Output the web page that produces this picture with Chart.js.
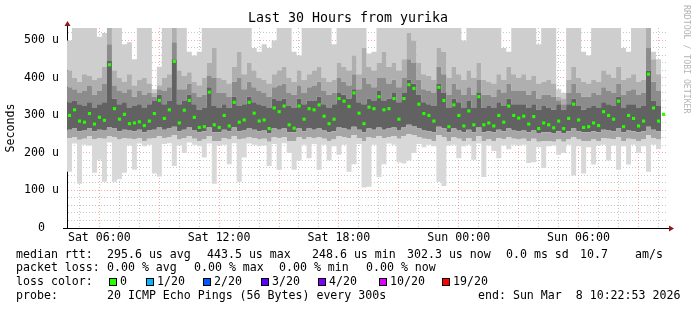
<!DOCTYPE html>
<html>
<head>
<meta charset="utf-8">
<script src="https://cdn.jsdelivr.net/npm/chart.js@4/dist/chart.umd.min.js"></script>
<style>
  html, body { margin: 0; padding: 0; background: #fff; }
  canvas { display: block; }
</style>
</head>
<body>
<canvas id="chart" width="697" height="310"></canvas>
<script>
(() => {
    // Начало окна: Sat 04:22:53 (часы от Sat 00:00), шаг — 15 минут
    const START = 4 + 22 / 60 + 53 / 3600
    const SPAN = 30
    const BIN = 0.25

    // Медиана RTT, мкс
    const median = [
        300,315,285,282,305,277,295,287,435,318,290,303,278,280,283,273,285,305,340,292,315,444,280,314,340,295,268,270,362,275,
        268,300,272,335,282,288,335,306,285,288,265,320,310,325,275,266,325,290,318,315,328,298,278,290,345,338,324,360,306,278,
        322,318,350,315,318,345,290,345,382,372,330,305,300,285,375,340,270,328,300,272,312,275,350,275,280,272,300,282,325,300,
        293,298,277,297,265,280,275,267,285,265,292,330,288,268,270,280,273,310,300,290,338,270,300,292,272,285,410,320,285,303
    ]
    // "Дым": границы полос распределения пингов, мкс
    const smokeMin = [
        150,225,118,222,220,147,182,123,228,123,130,147,220,155,225,218,222,145,137,224,226,165,220,200,228,222,218,188,225,118,
        220,222,170,226,123,188,225,222,218,220,165,224,155,226,200,155,180,222,186,224,155,222,180,218,195,222,150,170,224,108,
        110,222,136,170,225,222,175,172,180,200,224,215,222,218,123,112,220,222,186,218,222,182,225,136,220,205,186,220,210,222,
        220,222,173,175,215,160,218,220,195,200,222,140,218,145,215,169,220,222,180,220,155,218,169,222,200,218,150,222,210,224
    ]
    const smokeLo = [
        240,242,235,238,245,236,240,238,245,242,236,240,238,236,240,232,238,240,245,240,242,248,236,240,245,238,232,236,245,232,
        232,240,236,245,236,238,242,240,236,238,230,242,240,242,232,232,242,236,242,240,242,238,232,236,245,242,240,248,240,232,
        242,240,245,240,242,245,238,245,250,248,242,238,236,232,248,242,232,242,238,232,240,232,245,232,236,232,240,236,242,238,
        236,238,232,238,230,232,232,230,236,230,236,242,236,232,232,236,232,240,238,236,242,232,238,236,232,236,248,240,236,240
    ]
    const smokeCoreLo = [
        262,265,258,260,265,258,262,260,268,265,258,262,260,258,262,255,260,262,268,262,265,270,258,262,268,260,255,258,268,255,
        255,262,258,268,258,260,265,262,258,260,252,265,262,265,255,255,265,258,265,262,265,260,255,258,268,265,262,270,262,255,
        265,262,268,262,265,268,260,268,275,272,265,260,258,255,270,265,255,265,260,255,262,255,268,255,258,255,262,258,265,260,
        258,260,255,260,252,255,255,252,258,252,258,265,258,255,255,258,255,262,260,258,265,255,260,258,255,258,270,262,258,262
    ]
    const smokeCoreHi = [
        335,340,330,325,335,320,330,335,445,345,330,335,320,325,330,320,330,340,355,330,340,450,330,340,355,330,315,320,375,325,
        320,330,320,350,325,330,350,335,330,325,320,345,340,345,325,320,345,330,340,340,350,330,320,330,360,355,345,370,335,330,
        345,340,365,340,345,360,335,360,395,385,355,335,330,325,385,360,320,345,335,320,340,320,360,320,325,320,335,325,345,330,
        330,330,320,330,315,325,320,315,330,315,330,345,325,315,320,325,320,335,330,325,350,320,330,330,320,325,420,340,325,335
    ]
    const smokeUpper = [
        375,370,360,365,380,355,365,385,490,380,365,360,370,350,365,355,360,350,370,365,375,495,370,370,385,360,350,355,405,400,
        360,360,350,390,400,370,390,375,365,360,350,375,380,385,360,355,380,360,375,380,390,365,355,360,400,390,380,410,370,400,
        385,375,400,400,385,395,375,400,450,440,395,370,365,360,430,410,355,385,370,355,375,355,395,355,355,350,370,360,385,365,
        365,365,355,365,345,355,355,350,340,330,360,385,360,350,350,360,355,375,365,360,385,355,365,370,355,360,480,390,365,375
    ]
    const smokeHi = [
        420,400,390,410,405,395,400,430,540,420,400,390,410,380,395,400,385,360,380,400,410,540,420,405,415,390,380,400,440,480,
        400,395,385,430,470,410,440,420,400,395,385,410,420,430,400,390,420,395,410,420,430,400,390,395,440,430,420,460,410,480,
        430,420,440,470,430,440,420,450,520,500,440,410,405,395,480,470,400,430,410,395,420,400,440,395,390,385,410,395,430,410,
        400,410,395,405,385,390,395,385,350,345,395,430,400,390,385,395,390,420,410,400,430,395,400,410,390,395,540,450,410,420
    ]
    const smokeMax = [
        500,540,540,540,540,540,510,520,540,540,540,490,495,450,540,540,540,370,430,540,540,540,540,540,470,460,470,540,540,540,
        540,540,540,540,540,540,540,480,470,490,480,500,540,540,540,470,460,540,540,540,540,540,540,490,540,540,540,540,540,540,
        465,470,540,540,540,540,540,540,540,540,540,540,540,540,540,540,540,540,540,500,540,540,540,540,540,540,540,480,470,540,
        540,540,540,540,490,540,540,540,370,360,540,540,540,470,460,540,540,540,540,540,540,480,470,540,540,540,540,470,450,500
    ]

    // Подписи осей
    const timeTickHours = [6, 12, 18, 24, 30]
    const timeTickLabels = ['Sat 06:00', 'Sat 12:00', 'Sat 18:00', 'Sun 00:00', 'Sun 06:00']
    const valueTicks = [0, 100, 200, 300, 400, 500]
    const valueTickLabels = ['0  ', '100 u', '200 u', '300 u', '400 u', '500 u']

    // Легенда под графиком
    const title = 'Last 30 Hours from yurika'
    const rttStats = ['median rtt:', '295.6 us avg', '443.5 us max', '248.6 us min', '302.3 us now', '0.0 ms sd', '10.7', 'am/s']
    const lossStats = ['packet loss:', '0.00 % avg', '0.00 % max', '0.00 % min', '0.00 % now']
    const lossLabels = ['0', '1/20', '2/20', '3/20', '4/20', '10/20', '19/20']
    const probeText = ['probe:', '20 ICMP Echo Pings (56 Bytes) every 300s', 'end: Sun Mar  8 10:22:53 2026']

    // Стили
    const MONO = "'DejaVu Sans Mono', monospace"
    const lossColors = ['#26ff00', '#00b8ff', '#0059ff', '#5e00ff', '#7e00ff', '#dd00ff', '#ff0000']
    const bandColors = ['#d8d8d8', '#a6a6a6', '#626262', '#8c8c8c', '#afafaf', '#cecece']
    const MAJOR = 'rgba(255,0,0,0.35)'
    const MINOR = 'rgba(130,130,130,0.45)'
    const ARROW = '#8b1a1a'

    const toPoints = (arr, shift) => arr.map((v, k) => ({ x: START + (k + shift) * BIN, y: v }))

    const band = (arr, i) => ({
        data: toPoints(arr, 0),
        stepped: true,
        borderWidth: 0,
        borderColor: 'rgba(0,0,0,0)',
        pointRadius: 0,
        fill: i === null ? false : '-1',
        backgroundColor: i === null ? 'rgba(0,0,0,0)' : bandColors[i]
    })

    // Надписи, маркеры легенды и стрелки осей
    const decor = {
        id: 'decor',
        afterDraw(chart) {
            const { ctx, chartArea: a } = chart
            ctx.save()

            // стрелки осей
            ctx.strokeStyle = '#000'
            ctx.lineWidth = 1
            ctx.beginPath()
            ctx.moveTo(a.left + 0.5, a.top)
            ctx.lineTo(a.left + 0.5, a.top - 3)
            ctx.moveTo(a.left - 4, a.bottom + 0.5)
            ctx.lineTo(a.left, a.bottom + 0.5)
            ctx.moveTo(a.right, a.bottom + 0.5)
            ctx.lineTo(a.right + 3, a.bottom + 0.5)
            ctx.stroke()
            ctx.fillStyle = ARROW
            ctx.beginPath()
            ctx.moveTo(a.left - 2.5, a.top - 2)
            ctx.lineTo(a.left + 3.5, a.top - 2)
            ctx.lineTo(a.left + 0.5, a.top - 7)
            ctx.fill()
            ctx.beginPath()
            ctx.moveTo(a.right + 3, a.bottom - 2.5)
            ctx.lineTo(a.right + 3, a.bottom + 3.5)
            ctx.lineTo(a.right + 8, a.bottom + 0.5)
            ctx.fill()

            // заголовок
            ctx.fillStyle = '#000'
            ctx.textBaseline = 'middle'
            ctx.textAlign = 'center'
            ctx.font = '13.3px ' + MONO
            ctx.fillText(title, 348, 19)

            // вертикальная подпись справа
            ctx.save()
            ctx.translate(686, 5)
            ctx.rotate(Math.PI / 2)
            ctx.textAlign = 'left'
            ctx.fillStyle = '#b4b4b4'
            ctx.font = '8.2px ' + MONO
            ctx.fillText('RRDTOOL / TOBI OETIKER', 0, 0)
            ctx.restore()

            // строки статистики
            ctx.textAlign = 'left'
            ctx.font = '11.6px ' + MONO
            const put = (items, xs, y) => items.forEach((t, i) => ctx.fillText(t, xs[i], y))
            put(rttStats, [16, 107, 207, 312, 407, 506, 580, 635], 254.5)
            put(lossStats, [16, 107, 194, 279, 366], 268)
            ctx.fillText('loss color:', 16, 282)
            const boxX = [109, 146, 203, 261, 318, 379, 442]
            lossLabels.forEach((t, i) => {
                ctx.fillStyle = lossColors[i]
                ctx.fillRect(boxX[i] + 0.5, 278.5, 7, 7)
                ctx.strokeStyle = '#000'
                ctx.strokeRect(boxX[i] + 0.5, 278.5, 7, 7)
                ctx.fillStyle = '#000'
                ctx.fillText(t, boxX[i] + 11, 282)
            })
            put(probeText, [16, 107, 478], 295.5)
            ctx.restore()
        }
    }

    new Chart(document.getElementById('chart'), {
        type: 'line',
        data: {
            datasets: [
                {
                    data: toPoints(median, 0.5),
                    showLine: false,
                    pointStyle: 'rect',
                    pointRadius: 2.2,
                    pointBorderWidth: 0,
                    pointBackgroundColor: lossColors[0],
                    fill: false
                },
                band(smokeMin, null),
                band(smokeLo, 0),
                band(smokeCoreLo, 1),
                band(smokeCoreHi, 2),
                band(smokeUpper, 3),
                band(smokeHi, 4),
                band(smokeMax, 5)
            ]
        },
        options: {
            responsive: false,
            animation: false,
            devicePixelRatio: 1,
            layout: { padding: { left: 0, right: 31, top: 28, bottom: 62 } },
            plugins: {
                legend: { display: false },
                tooltip: { enabled: false },
                title: { display: false }
            },
            scales: {
                x: {
                    type: 'linear',
                    min: START,
                    max: START + SPAN,
                    z: 1,
                    afterBuildTicks: s => {
                        s.ticks = []
                        for (let h = Math.ceil(START); h < START + SPAN; h++) s.ticks.push({ value: h })
                    },
                    afterFit: s => { s.height = 20 },
                    grid: {
                        color: c => c.tick && c.tick.value % 3 === 0 ? MAJOR : MINOR,
                        drawTicks: false
                    },
                    border: { display: true, color: '#000', width: 1, dash: [1, 2] },
                    ticks: {
                        autoSkip: false,
                        maxRotation: 0,
                        padding: 3,
                        color: '#000',
                        font: { family: MONO, size: 11.6 },
                        callback: v => {
                            const i = timeTickHours.indexOf(v)
                            return i < 0 ? '' : timeTickLabels[i]
                        }
                    }
                },
                y: {
                    min: 0,
                    max: 533,
                    z: 1,
                    afterBuildTicks: s => {
                        s.ticks = []
                        for (let v = 0; v < 533; v += 20) s.ticks.push({ value: v })
                    },
                    afterFit: s => { s.width = 67 },
                    grid: {
                        color: c => c.tick && c.tick.value % 100 === 0 ? MAJOR : MINOR,
                        drawTicks: false
                    },
                    border: { display: true, color: '#000', width: 1, dash: [1, 2] },
                    title: {
                        display: true,
                        text: 'Seconds',
                        color: '#000',
                        font: { family: MONO, size: 11.6 },
                        padding: { top: 4, bottom: 0 }
                    },
                    ticks: {
                        autoSkip: false,
                        padding: 8,
                        color: '#000',
                        font: { family: MONO, size: 11.6 },
                        callback: v => {
                            const i = valueTicks.indexOf(v)
                            return i < 0 ? '' : valueTickLabels[i]
                        }
                    }
                }
            }
        },
        plugins: [decor]
    })
})()
</script>
</body>
</html>
